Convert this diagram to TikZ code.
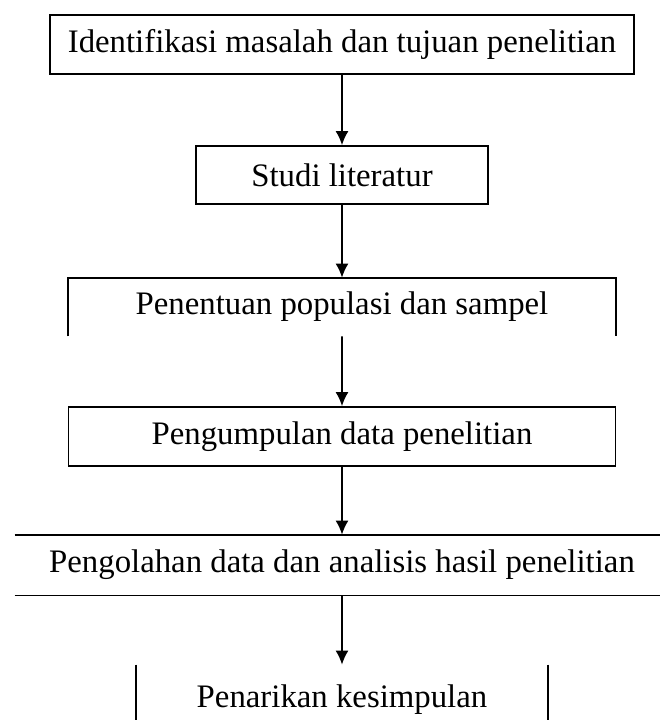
\documentclass[tikz,border=0pt]{standalone}
\usepackage{fontspec}
\setmainfont{Liberation Serif}
\usepackage{tikz}
\usetikzlibrary{arrows.meta}

\newcommand{\stepfont}{\fontsize{16.4pt}{19pt}\selectfont}

\begin{document}
\begin{tikzpicture}[every node/.style={rectangle, inner sep=0pt, align=center, font=\stepfont},
				   stepbox/.style={draw=black, line width=0.9pt},
				   rule/.style={draw=black, line width=0.9pt},
				   edge from parent/.style={draw=black, line width=0.8pt, -{Latex[length=7pt, width=6.5pt]}},
				   level 1/.style={level distance=65.25pt},
				   level 2/.style={level distance=66pt},
				   level 3/.style={level distance=64.75pt},
				   level 4/.style={level distance=64.25pt},
				   level 5/.style={level distance=67.5pt}]
\useasboundingbox (0,0) rectangle (330pt,-360pt);
\clip (0,0) rectangle (330pt,-360pt);
\node[stepbox, minimum width=292pt, minimum height=29.5pt] (ident) at (171pt,-22.25pt) {Identifikasi masalah dan tujuan penelitian}
	child {node[stepbox, minimum width=146pt, minimum height=29pt] (studi) {Studi literatur}
		child {node[minimum width=273.5pt, minimum height=29pt] (populasi) {Penentuan populasi dan sampel}
			child {node[stepbox, minimum width=273.5pt, minimum height=29.5pt] (kumpul) {Pengumpulan data penelitian}
				child {node[minimum width=327pt, minimum height=30pt] (olah) {Pengolahan data dan analisis hasil penelitian}
					child {node[minimum width=206pt, minimum height=35pt] (simpul) {Penarikan kesimpulan}}
				}
			}
		}
	}
;
% open outlines
\draw[rule] (populasi.south west) -- (populasi.north west) -- (populasi.north east) -- (populasi.south east);
\draw[rule] (olah.north west) -- (olah.north east);
\draw[rule] (olah.south west) -- (olah.south east);
\draw[rule] (simpul.north west) -- (simpul.south west);
\draw[rule] (simpul.north east) -- (simpul.south east);
\end{tikzpicture}
\end{document}
